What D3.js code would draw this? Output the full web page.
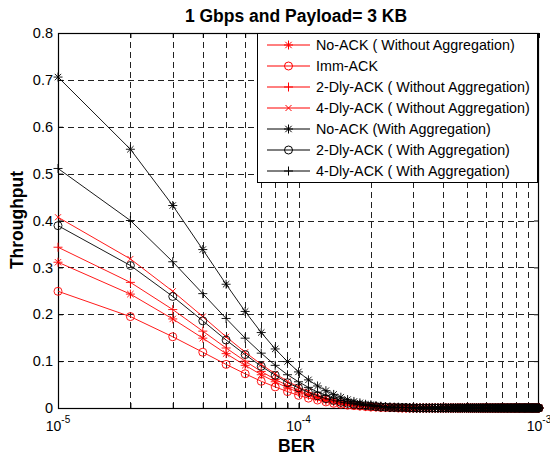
<!DOCTYPE html>
<html>
<head>
<meta charset="utf-8">
<script src="https://cdn.jsdelivr.net/npm/d3@7"></script>
<style>
body { margin: 0; background: #fff; }
text { font-family: "Liberation Sans", Arial, sans-serif; }
</style>
</head>
<body>
<div id="chart"></div>
<script>
// BER values (x axis)
var ber = [
  1e-5, 2e-5, 3e-5, 4e-5, 5e-5, 6e-5, 7e-5, 8e-5, 9e-5, 10e-5,
  11e-5, 12e-5, 13e-5, 14e-5, 15e-5, 16e-5, 17e-5, 18e-5, 19e-5, 20e-5,
  21e-5, 22e-5, 23e-5, 24e-5, 25e-5, 26e-5, 27e-5, 28e-5, 29e-5, 30e-5,
  31e-5, 32e-5, 33e-5, 34e-5, 35e-5, 36e-5, 37e-5, 38e-5, 39e-5, 40e-5,
  41e-5, 42e-5, 43e-5, 44e-5, 45e-5, 46e-5, 47e-5, 48e-5, 49e-5, 50e-5,
  51e-5, 52e-5, 53e-5, 54e-5, 55e-5, 56e-5, 57e-5, 58e-5, 59e-5, 60e-5,
  61e-5, 62e-5, 63e-5, 64e-5, 65e-5, 66e-5, 67e-5, 68e-5, 69e-5, 70e-5,
  71e-5, 72e-5, 73e-5, 74e-5, 75e-5, 76e-5, 77e-5, 78e-5, 79e-5, 80e-5,
  81e-5, 82e-5, 83e-5, 84e-5, 85e-5, 86e-5, 87e-5, 88e-5, 89e-5, 90e-5,
  91e-5, 92e-5, 93e-5, 94e-5, 95e-5, 96e-5, 97e-5, 98e-5, 99e-5, 100e-5
];

// Throughput values, one array per curve
var noAckWithout = [
  0.311,0.243,0.190,0.149,0.116,0.091,0.071,0.056,0.043,0.034,
  0.027,0.021,0.016,0.013,0.010,0.008,0.006,0.005,0.004,0.003,
  0.002,0.002,0.001,0.001,0.001,0.001,0,0,0,0,
  0,0,0,0,0,0,0,0,0,0, 0,0,0,0,0,0,0,0,0,0, 0,0,0,0,0,0,0,0,0,0,
  0,0,0,0,0,0,0,0,0,0, 0,0,0,0,0,0,0,0,0,0, 0,0,0,0,0,0,0,0,0,0,
  0,0,0,0,0,0,0,0,0,0
];
var immAck = [
  0.249,0.195,0.152,0.119,0.093,0.073,0.057,0.045,0.035,0.027,
  0.021,0.017,0.013,0.010,0.008,0.006,0.005,0.004,0.003,0.002,
  0.002,0.001,0.001,0.001,0.001,0,0,0,0,0,
  0,0,0,0,0,0,0,0,0,0, 0,0,0,0,0,0,0,0,0,0, 0,0,0,0,0,0,0,0,0,0,
  0,0,0,0,0,0,0,0,0,0, 0,0,0,0,0,0,0,0,0,0, 0,0,0,0,0,0,0,0,0,0,
  0,0,0,0,0,0,0,0,0,0
];
var dly2Without = [
  0.343,0.268,0.210,0.164,0.128,0.100,0.078,0.061,0.048,0.038,
  0.029,0.023,0.018,0.014,0.011,0.009,0.007,0.005,0.004,0.003,
  0.003,0.002,0.002,0.001,0.001,0.001,0.001,0,0,0,
  0,0,0,0,0,0,0,0,0,0, 0,0,0,0,0,0,0,0,0,0, 0,0,0,0,0,0,0,0,0,0,
  0,0,0,0,0,0,0,0,0,0, 0,0,0,0,0,0,0,0,0,0, 0,0,0,0,0,0,0,0,0,0,
  0,0,0,0,0,0,0,0,0,0
];
var dly4Without = [
  0.407,0.318,0.249,0.195,0.152,0.119,0.093,0.073,0.057,0.045,
  0.035,0.027,0.021,0.017,0.013,0.010,0.008,0.006,0.005,0.004,
  0.003,0.002,0.002,0.001,0.001,0.001,0.001,0.001,0,0,
  0,0,0,0,0,0,0,0,0,0, 0,0,0,0,0,0,0,0,0,0, 0,0,0,0,0,0,0,0,0,0,
  0,0,0,0,0,0,0,0,0,0, 0,0,0,0,0,0,0,0,0,0, 0,0,0,0,0,0,0,0,0,0,
  0,0,0,0,0,0,0,0,0,0
];
var noAckWith = [
  0.706,0.552,0.432,0.338,0.264,0.206,0.161,0.126,0.099,0.077,
  0.060,0.047,0.037,0.029,0.023,0.018,0.014,0.011,0.008,0.007,
  0.005,0.004,0.003,0.002,0.002,0.002,0.001,0.001,0.001,0.001,
  0,0,0,0,0,0,0,0,0,0, 0,0,0,0,0,0,0,0,0,0, 0,0,0,0,0,0,0,0,0,0,
  0,0,0,0,0,0,0,0,0,0, 0,0,0,0,0,0,0,0,0,0, 0,0,0,0,0,0,0,0,0,0,
  0,0,0,0,0,0,0,0,0,0
];
var dly2With = [
  0.389,0.304,0.238,0.186,0.145,0.114,0.089,0.070,0.054,0.043,
  0.033,0.026,0.020,0.016,0.012,0.010,0.008,0.006,0.005,0.004,
  0.003,0.002,0.002,0.001,0.001,0.001,0.001,0.001,0,0,
  0,0,0,0,0,0,0,0,0,0, 0,0,0,0,0,0,0,0,0,0, 0,0,0,0,0,0,0,0,0,0,
  0,0,0,0,0,0,0,0,0,0, 0,0,0,0,0,0,0,0,0,0, 0,0,0,0,0,0,0,0,0,0,
  0,0,0,0,0,0,0,0,0,0
];
var dly4With = [
  0.511,0.400,0.312,0.244,0.191,0.149,0.117,0.091,0.071,0.056,
  0.044,0.034,0.027,0.021,0.016,0.013,0.010,0.008,0.006,0.005,
  0.004,0.003,0.002,0.002,0.001,0.001,0.001,0.001,0.001,0,
  0,0,0,0,0,0,0,0,0,0, 0,0,0,0,0,0,0,0,0,0, 0,0,0,0,0,0,0,0,0,0,
  0,0,0,0,0,0,0,0,0,0, 0,0,0,0,0,0,0,0,0,0, 0,0,0,0,0,0,0,0,0,0,
  0,0,0,0,0,0,0,0,0,0
];

var seriesNames = [
  "No-ACK ( Without Aggregation)",
  "Imm-ACK",
  "2-Dly-ACK ( Without Aggregation)",
  "4-Dly-ACK ( Without Aggregation)",
  "No-ACK (With Aggregation)",
  "2-Dly-ACK ( With Aggregation)",
  "4-Dly-ACK ( With Aggregation)"
];
var seriesValues = [noAckWithout, immAck, dly2Without, dly4Without, noAckWith, dly2With, dly4With];
var yTickValues = [0, 0.1, 0.2, 0.3, 0.4, 0.5, 0.6, 0.7, 0.8];
var xLabelValues = [1e-5, 1e-4, 1e-3];
var xLabelExps = ["-5", "-4", "-3"];

// styles per curve
var colors = ["#ff0000", "#ff0000", "#ff0000", "#ff0000", "#000000", "#000000", "#000000"];
var markers = ["asterisk", "circle", "plus", "x", "asterisk", "circle", "plus"];

var width = 550, height = 457;
var plot = {left: 58, right: 539, top: 33, bottom: 408};

var svg = d3.select("#chart").append("svg")
  .attr("width", width)
  .attr("height", height);

var x = d3.scaleLog().domain([1e-5, 1e-3]).range([plot.left, plot.right]);
var y = d3.scaleLinear().domain([0, 0.8]).range([plot.bottom, plot.top]);

// marker shape as a path centred on 0,0
function markerPath(type) {
  if (type == "plus") {
    var s = 4.5;
    return "M" + (-s) + ",0H" + s + "M0," + (-s) + "V" + s;
  }
  if (type == "x") {
    var s = 3;
    return "M" + (-s) + "," + (-s) + "L" + s + "," + s + "M" + (-s) + "," + s + "L" + s + "," + (-s);
  }
  if (type == "asterisk") {
    var s = 4.5, d = 3.2;
    return "M" + (-s) + ",0H" + s + "M0," + (-s) + "V" + s +
      "M" + (-d) + "," + (-d) + "L" + d + "," + d + "M" + (-d) + "," + d + "L" + d + "," + (-d);
  }
  var r = 4;
  return "M" + r + ",0A" + r + "," + r + " 0 1,1 " + (-r) + ",0A" + r + "," + r + " 0 1,1 " + r + ",0Z";
}

// grid
var grid = svg.append("g")
  .attr("stroke", "#222")
  .attr("stroke-width", 1)
  .attr("stroke-dasharray", "6,4");

grid.selectAll("line.vx")
  .data(x.ticks().filter(function (d) { return d > 1e-5 && d < 1e-3; }))
  .enter().append("line")
  .attr("x1", function (d) { return Math.round(x(d)) + 0.5; })
  .attr("x2", function (d) { return Math.round(x(d)) + 0.5; })
  .attr("y1", plot.bottom)
  .attr("y2", plot.top);

grid.selectAll("line.hy")
  .data(yTickValues.filter(function (d) { return d > 0 && d < 0.8; }))
  .enter().append("line")
  .attr("x1", plot.left)
  .attr("x2", plot.right)
  .attr("y1", function (d) { return Math.round(y(d)) + 0.5; })
  .attr("y2", function (d) { return Math.round(y(d)) + 0.5; });

// axes box and ticks
function styleAxis(g) {
  g.select(".domain").remove();
  g.selectAll(".tick line").attr("stroke", "#000");
  g.selectAll(".tick text")
    .attr("fill", "#000")
    .style("font-family", '"Liberation Sans", Arial, sans-serif')
    .style("font-size", "14.5px");
}

svg.append("g")
  .attr("transform", "translate(0," + plot.bottom + ")")
  .call(d3.axisBottom(x).tickValues(x.ticks()).tickSize(-5).tickFormat(""))
  .call(styleAxis);

svg.append("g")
  .attr("transform", "translate(0," + plot.top + ")")
  .call(d3.axisTop(x).tickValues(x.ticks()).tickSize(-5).tickFormat(""))
  .call(styleAxis);

svg.append("g")
  .attr("transform", "translate(" + plot.left + ",0)")
  .call(d3.axisLeft(y).tickValues(yTickValues).tickSize(-5).tickPadding(5).tickFormat(d3.format("")))
  .call(styleAxis);

svg.append("g")
  .attr("transform", "translate(" + plot.right + ",0)")
  .call(d3.axisRight(y).tickValues(yTickValues).tickSize(-5).tickFormat(""))
  .call(styleAxis);

svg.append("rect")
  .attr("x", plot.left + 0.5)
  .attr("y", plot.top + 0.5)
  .attr("width", plot.right - plot.left - 1)
  .attr("height", plot.bottom - plot.top)
  .attr("fill", "none")
  .attr("stroke", "#000")
  .attr("stroke-width", 1.2);

// x tick labels as 10^n
var xl = svg.append("g").selectAll("text")
  .data(xLabelValues)
  .enter().append("text")
  .attr("x", function (d) { return x(d); })
  .attr("y", 431)
  .attr("text-anchor", "middle")
  .style("font-size", "14px")
  .attr("fill", "#000");
xl.append("tspan").text("10");
xl.append("tspan")
  .attr("dy", -8)
  .style("font-size", "10px")
  .text(function (d, i) { return xLabelExps[i]; });

// curves
var line = d3.line()
  .x(function (d, i) { return x(ber[i]); })
  .y(function (d) { return y(d); });

seriesValues.forEach(function (values, s) {
  var g = svg.append("g").attr("class", "series");
  g.append("path")
    .attr("d", line(values))
    .attr("fill", "none")
    .attr("stroke", colors[s])
    .attr("stroke-width", 0.9);
  g.selectAll("path.m")
    .data(values)
    .enter().append("path")
    .attr("class", "m")
    .attr("transform", function (d, i) { return "translate(" + x(ber[i]) + "," + y(d) + ")"; })
    .attr("d", markerPath(markers[s]))
    .attr("fill", "none")
    .attr("stroke", colors[s])
    .attr("stroke-width", 0.9);
});

// legend
var legend = svg.append("g");
legend.append("rect")
  .attr("x", 257.5)
  .attr("y", 33.5)
  .attr("width", 280)
  .attr("height", 149)
  .attr("fill", "#fff")
  .attr("stroke", "#000")
  .attr("stroke-width", 1);

seriesNames.forEach(function (name, i) {
  var ly = 45 + i * 21;
  legend.append("line")
    .attr("x1", 267).attr("x2", 310)
    .attr("y1", ly).attr("y2", ly)
    .attr("stroke", colors[i])
    .attr("stroke-width", 1);
  legend.append("path")
    .attr("transform", "translate(288.5," + ly + ")")
    .attr("d", markerPath(markers[i]))
    .attr("fill", "none")
    .attr("stroke", colors[i])
    .attr("stroke-width", 1);
  legend.append("text")
    .attr("x", 316)
    .attr("y", ly + 5)
    .style("font-size", "14.3px")
    .attr("fill", "#000")
    .text(name);
});

// titles
svg.append("text")
  .attr("x", 296)
  .attr("y", 22)
  .attr("text-anchor", "middle")
  .style("font-size", "17.5px")
  .style("font-weight", "bold")
  .text("1 Gbps and Payload= 3 KB");

svg.append("text")
  .attr("x", 296.5)
  .attr("y", 452)
  .attr("text-anchor", "middle")
  .style("font-size", "17.5px")
  .style("font-weight", "bold")
  .text("BER");

svg.append("text")
  .attr("transform", "translate(23," + 220 + ") rotate(-90)")
  .attr("text-anchor", "middle")
  .style("font-size", "17.5px")
  .style("font-weight", "bold")
  .text("Throughput");
</script>
</body>
</html>
